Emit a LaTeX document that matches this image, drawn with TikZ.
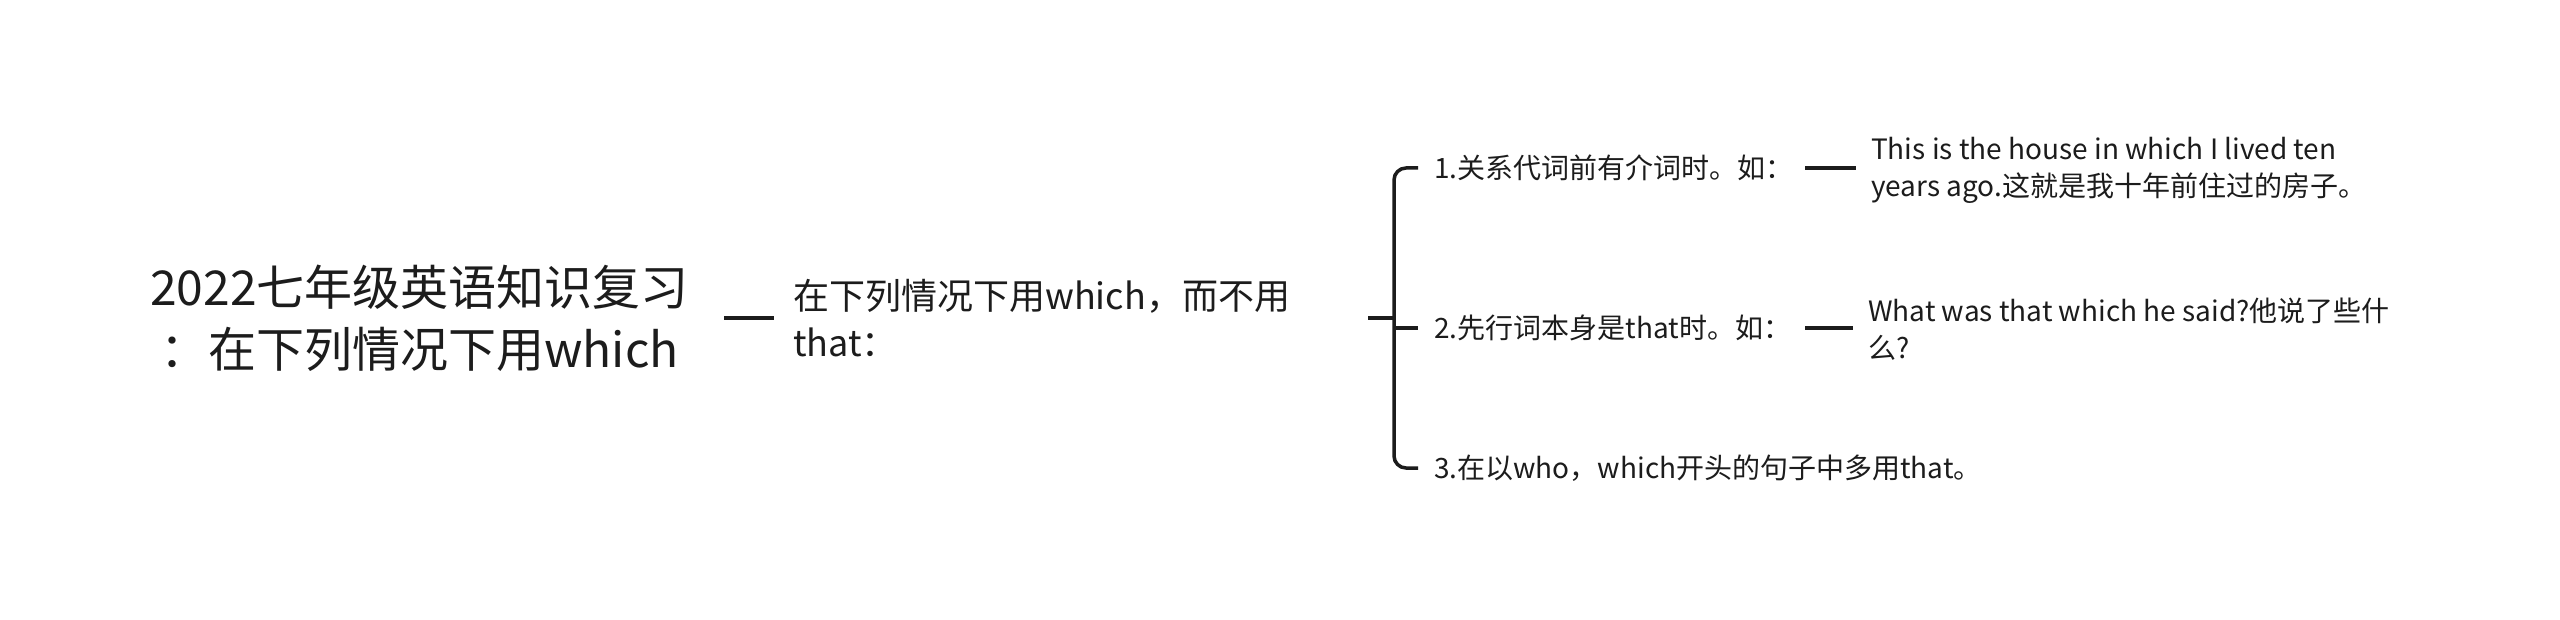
\documentclass[tikz,border=0pt]{standalone}
\usepackage{fontspec}
\setmainfont{Noto Sans CJK SC}
\usetikzlibrary{positioning}
\definecolor{LineGray}{RGB}{28,28,28}
\definecolor{TextGray}{RGB}{28,28,28}

\tikzset{
  topic/.style={inner sep=0pt, text=TextGray},
  caseitem/.style={topic, anchor=west, align=left, font={\fontsize{28pt}{37pt}\selectfont}},
  conn/.style={draw=LineGray, line width=3.5pt},
}

\begin{document}
\begin{tikzpicture}[x=1pt, y=-1pt]
    \fill[white] (0,0) rectangle (2560,620);
    % central topic
    \node[topic, anchor=east, align=center, font={\fontsize{48pt}{62pt}\selectfont}] (root) at (689,318)
      {2022七年级英语知识复习\\：在下列情况下用which};
    % first level
    \node[topic, anchor=west, text width=575pt, align=left, font={\fontsize{36pt}{47pt}\selectfont}] (sub) at (793,318)
      {在下列情况下用which，而不用\\that：};
    \coordinate (br) at (1394,318);

    % the three cases
    \node[caseitem, text width=371pt] (case1) at (1434,168) {1.关系代词前有介词时。如：};
    \node[caseitem, text width=371pt] (case2) at (1434,328) {2.先行词本身是that时。如：};
    \node[caseitem] (case3) at (1434,468) {3.在以who，which开头的句子中多用that。};

    % examples
    \node[caseitem] (ex1) at (1871,170) {This is the house in which I lived ten\\years ago.这就是我十年前住过的房子。};
    \node[caseitem] (ex2) at (1868,329) {What was that which he said?他说了些什\\么?};

    % connectors
    \draw[conn, shorten <=35pt, shorten >=19pt] (root.east) -- (sub.west);
    \draw[conn] (sub.east) -- (br);
    \draw[conn, rounded corners=12pt, shorten <=16pt, shorten >=16pt] (case1.west) -| (br) |- (case3.west);
    \draw[conn, shorten >=16pt] (br |- case2.west) -- (case2.west);
    \draw[conn, shorten >=15pt] (case1.east) -- (case1.east -| ex1.west);
    \draw[conn, shorten >=15pt] (case2.east) -- (case2.east -| ex2.west);
\end{tikzpicture}
\end{document}
